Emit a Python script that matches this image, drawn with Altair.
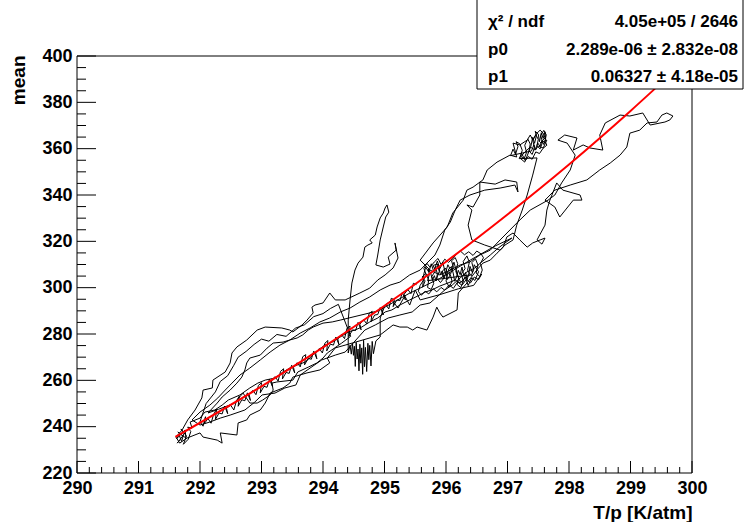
import altair as alt
import pandas as pd

FONT = "Liberation Sans"

seg1 = [(291.67,234.2),(291.63,232.9),(291.72,236.0),(291.64,237.7),(291.77,235.1),(291.76,238.6),
        (291.62,234.8),(291.66,236.5),(291.70,233.6),(291.74,237.2),(291.69,239.0),(291.78,236.0),
        (291.73,232.4),(291.81,234.6),(291.85,237.9),(291.80,239.8),
        (291.87,239.4),(291.84,242.0),(292.00,243.7),(292.08,246.3),(292.24,247.2),(292.36,249.3),
        (292.46,251.5),(292.65,253.7),(292.81,256.7),(292.94,258.8),(293.06,260.1),(293.22,261.0),
        (293.35,263.6),(293.46,265.3),(293.58,266.6),(293.71,267.9),(293.82,270.5),(293.92,273.1),
        (294.03,275.2),(294.15,276.5),(294.28,278.7),(294.41,280.9),(294.52,281.7),(294.63,283.0),
        (294.76,285.2),(294.89,286.9),(295.01,289.5),(295.12,290.4),(295.25,292.5),(295.41,294.7),
        (295.54,296.4),(295.66,298.1),(295.77,299.0),(295.90,300.7),(296.03,302.0),(296.15,303.3),
        (296.23,302.0),(296.31,304.2),(296.39,305.5)]
blob2 = [(295.70,303.0),(295.73,305.8),(295.71,308.0),(295.75,306.4),(295.78,303.1),(295.81,305.2),
         (295.84,302.9),(295.86,306.0),(295.83,308.7),(295.88,309.5),(295.91,305.5),(295.94,307.2),
         (295.97,304.0),(296.00,306.9),(296.02,303.5),(296.06,305.1),(296.04,308.0),(296.09,309.1),
         (296.12,305.9),(296.14,302.8),(296.17,304.6),(296.20,307.5),(296.23,305.6),(296.26,308.9),
         (296.29,305.0),(296.32,306.6),(296.34,303.2),(296.37,305.9),(296.39,309.2),(296.43,306.4),
         (296.46,309.9),(296.50,308.0),(296.53,306.9),(296.47,303.1),(296.42,304.3),(296.36,300.9),
         (296.31,304.8),(296.27,302.3),(296.22,303.0),(296.16,307.9),(296.13,311.0),(296.08,307.4),
         (296.03,309.9),(295.99,306.0),(295.95,310.8),(295.90,308.2),(295.86,311.5),(295.80,307.0),
         (295.76,310.3),(295.72,306.7),(295.67,308.9),(295.64,306.0)]
blob = [(295.62,300.2),(295.66,302.9),(295.61,304.6),(295.67,306.1),(295.72,303.4),(295.70,300.1),
        (295.76,299.2),(295.80,301.8),(295.77,304.9),(295.83,307.3),(295.79,309.6),(295.86,310.2),
        (295.89,307.0),(295.85,304.1),(295.91,302.2),(295.96,303.9),(295.93,306.8),(295.99,308.5),
        (296.03,306.1),(296.00,302.9),(296.05,300.3),(296.10,302.6),(296.07,305.7),(296.12,308.9),
        (296.09,311.6),(296.15,313.0),(296.19,310.4),(296.16,306.9),(296.21,304.2),(296.18,301.4),
        (296.24,300.0),(296.28,302.8),(296.25,306.0),(296.31,308.2),(296.28,311.3),(296.34,313.7),
        (296.38,311.0),(296.35,307.5),(296.41,305.1),(296.45,307.9),(296.42,310.8),(296.48,312.4),
        (296.52,309.7),(296.49,306.3),(296.55,304.8),(296.59,307.6),(296.56,310.5),(296.61,312.9),
        (296.57,314.6),(296.50,315.8),(296.44,313.9),(296.37,315.5),(296.30,314.2),(296.23,315.9),
        (296.17,314.4),(296.11,312.6),(296.04,310.9),(295.98,312.3),(295.92,310.0),(295.87,312.6),
        (295.81,311.1),(295.74,308.8),(295.69,310.5),(295.64,308.3),(295.68,305.5),(295.63,303.1),
        (295.58,301.0),(295.55,298.4),(295.60,296.7),(295.66,298.5),(295.72,297.3),(295.79,299.6),
        (295.85,298.2),(295.92,300.1),(295.98,298.9),(296.05,301.2),(296.12,299.7),(296.19,302.5),
        (296.26,301.0),(296.33,303.6),(296.40,302.1),(296.46,304.6),(296.53,303.5),(296.58,305.9),
        (296.45,301.0),(296.20,299.5),(295.90,297.0),(295.58,294.7),(295.50,299.0),(295.41,292.5),
        (295.33,296.4),(295.22,291.2),(295.12,294.7),(295.01,292.5)]
seg3 = [(294.93,286.9),(294.93,278.7),(294.86,277.0),(294.82,271.5),(294.80,276.8),(294.78,266.2),
        (294.76,275.1),(294.745,268.9),(294.73,276.0),(294.71,263.8),(294.69,274.2),(294.675,265.9),
        (294.66,277.3),(294.645,262.6),(294.63,274.0),(294.615,267.4),(294.60,275.6),(294.585,264.1),
        (294.57,273.5),(294.555,269.2),(294.54,276.4),(294.525,266.0),(294.51,274.7),(294.495,270.8),
        (294.48,275.9),(294.46,271.3),(294.44,275.2),(294.41,271.8),(294.41,286.0),(294.44,294.7),
        (294.47,302.0),(294.52,307.6),(294.57,310.6),
        (294.65,313.2),(294.68,317.5),(294.73,318.4),(294.80,319.3),(294.76,320.6),(294.85,322.7),
        (294.88,326.2),(294.93,330.1),(294.98,332.2),(295.01,334.4),(295.04,335.7),(295.07,332.6),
        (295.02,330.5),(294.98,326.2),(294.93,320.6),(294.89,314.1),(294.86,309.8),(294.98,308.9),
        (295.09,310.2),(295.06,313.2),(295.19,316.2),(295.17,319.3),(295.22,312.8),(295.14,308.5),
        (295.01,305.5),(294.89,303.3),(294.76,299.8),(294.60,297.7)]
seg4 = [(294.36,294.7),(294.20,294.7),(294.11,297.7),(294.00,293.4),(293.87,292.5),(293.82,291.6),
        (293.84,289.1),(293.74,286.0),(293.66,283.9),(293.51,280.9),(293.46,281.7),(293.33,282.6),
        (293.06,283.0),(292.93,281.7),(292.76,277.4),(292.60,274.4),(292.52,271.8),(292.49,267.5),
        (292.41,263.6),(292.21,260.1),(292.20,256.7),(292.05,255.8),(292.03,252.4),(291.92,247.2),
        (291.80,242.9),(291.71,238.6),(291.61,235.5)]
seg5 = [(291.67,232.9),(291.79,235.1),(292.00,237.3),(292.05,235.5),(292.28,234.2),(292.36,232.9),
        (292.33,237.3),(292.60,236.4),(292.62,241.6),(292.76,242.9),(292.81,245.0),(292.98,247.2),
        (293.06,250.2),(293.14,254.5),(293.35,256.7),(293.46,258.8),(293.51,261.4),(293.74,263.2),
        (293.95,264.5),(294.11,267.5),(294.07,269.6),(294.20,274.0),(294.36,275.2),(294.93,279.6),
        (295.14,283.9),(295.25,283.0),(295.37,283.0),(295.46,281.7),(295.53,283.0),(295.69,281.7),
        (295.79,287.3),(295.85,291.6),(295.90,289.1),(295.95,287.3),(296.18,290.4),(296.20,297.7),
        (296.34,302.0),(296.50,307.6),(296.60,310.6),(296.72,311.9),(296.83,314.9),(296.93,317.5),
        (296.99,321.9),(297.09,323.6),(297.20,320.6),(297.32,317.5),(297.41,319.3),(297.53,320.6),
        (297.61,321.4),(297.56,318.8),(297.48,320.6)]
seg6 = [(297.61,327.0),(297.64,333.5),(297.69,337.8),(297.80,345.2),(297.90,342.1),(298.18,340.0),
        (298.21,337.8),(298.07,337.8),(297.85,330.5),(297.77,334.8),(297.61,337.8),(297.77,342.1),
        (298.02,344.3),(298.29,346.5),(298.50,350.8),(298.67,353.8),(298.83,357.2),(298.94,360.7),
        (298.99,366.7),(299.15,368.0),(299.27,371.1),(299.43,371.5),(299.51,374.5),(299.59,375.4),
        (299.69,374.1),(299.64,372.4),(299.56,371.5),(299.32,370.2),(299.20,375.4),(298.99,374.1),
        (298.83,374.5),(298.59,371.1),(298.50,365.9),(298.55,359.4),(298.34,360.3),(298.23,361.6),
        (298.07,359.4),(298.13,364.6),(297.93,365.9),(297.82,363.7),(297.97,362.4),(298.10,357.2),
        (298.02,350.8),(297.88,345.2),(297.77,340.0),(297.66,337.8)]
seg7 = [(297.37,333.5),(297.20,329.2),(297.04,324.9),(296.88,320.6),(296.72,316.2),(296.55,314.1),
        (296.39,311.1),(296.23,309.8),(296.07,307.6),(295.90,305.5),(295.74,307.6),(295.58,311.9),
        (295.79,319.3),(296.02,326.2),(296.11,332.2),(296.28,337.8),(296.34,342.1),(296.44,343.4),
        (296.60,346.5),(296.67,350.8),(296.83,354.2),(297.04,357.2),(297.15,356.4),(297.09,362.4),
        (297.20,361.6),(297.32,363.7),(297.37,365.9),(297.41,363.7),(297.48,366.7),(297.53,368.0),
        (297.58,366.7),(297.61,364.6),(297.53,362.4),(297.64,363.7),(297.58,360.3),(297.50,361.1),
        (297.45,359.4),(297.37,360.7),(297.28,358.5),(297.20,356.0),(297.28,354.2)]
top2 = [(297.38,361.0),(297.41,364.9),(297.44,362.3),(297.47,365.6),(297.45,367.5),(297.50,366.3),
        (297.52,363.0),(297.55,366.9),(297.58,364.4),(297.61,367.3),(297.62,364.0),(297.59,361.8),
        (297.56,363.6),(297.53,361.0),(297.49,362.5),(297.46,359.6),(297.43,361.7),(297.39,359.0)]
top = [(297.05,357.0),(297.09,359.8),(297.13,357.6),(297.17,360.9),(297.14,363.0),(297.20,362.1),
       (297.24,359.3),(297.21,356.8),(297.27,355.6),(297.31,358.4),(297.28,361.5),(297.33,364.2),
       (297.37,362.0),(297.35,359.1),(297.40,357.5),(297.44,360.3),(297.41,363.6),(297.46,366.1),
       (297.50,364.0),(297.48,361.2),(297.53,359.9),(297.57,362.8),(297.54,365.7),(297.59,367.9),
       (297.63,366.0),(297.61,363.2),(297.64,361.5),(297.58,360.2),(297.52,357.9),(297.46,358.6),
       (297.40,355.4),(297.34,356.6),(297.29,354.8),(297.23,357.9),(297.19,355.7),
       (297.48,356.0),(297.41,348.6),(297.32,340.0),(297.24,333.5),(297.15,327.0),(297.09,320.6)]
seg8 = [(296.96,318.4),(296.88,316.2),(296.63,318.4),(296.42,320.6),(296.36,327.0),(296.42,333.5),
        (296.34,335.7),(296.44,334.8),(296.55,340.0),(296.55,345.6),(296.80,344.7),(296.96,346.5),
        (297.15,345.6),(297.17,341.3),(297.12,344.3),(296.88,343.0),(296.63,342.1),(296.39,340.0),
        (296.23,337.8),(296.15,333.5),(296.07,328.3),(295.98,324.9),(295.90,318.4),(295.82,314.1),
        (295.69,310.6),(295.58,307.6),(295.41,305.5),(295.25,302.4),(295.09,301.1),(294.93,299.0),
        (294.76,296.0),(294.60,293.8),(294.44,291.2),(294.28,289.5),(294.11,286.9),(293.95,285.2),
        (293.79,282.6),(293.63,280.4),(293.46,277.4),(293.30,275.2),(293.14,272.2),(292.98,268.8),
        (292.81,265.3),(292.65,262.3),(292.52,258.8),(292.41,255.8),(292.29,252.4),(292.16,249.3),
        (292.00,246.3),(291.87,242.9)]
seg9 = [(292.00,240.7),(292.16,242.0),(292.33,243.7),(292.49,245.0),(292.73,247.2),(292.89,250.6),
        (293.01,253.7),(293.22,254.5),(293.38,256.7),(293.56,258.0),(293.63,262.3),(293.79,265.3),
        (293.98,268.8),(294.20,270.9),(294.36,272.2),(294.68,281.7),(294.85,283.9),(295.06,286.9),
        (295.25,288.2),(295.45,289.5),(295.58,292.5),(295.74,293.4),(295.87,296.4),(295.98,299.0),
        (296.10,301.1),(296.23,304.2),(296.34,306.8),(296.47,308.5),(296.58,311.1),(296.72,314.1),
        (296.85,317.1),(296.96,319.3),(297.07,321.4)]
seg10 = [(296.80,318.0),(296.40,312.0),(295.90,304.0),(295.40,297.5),(294.90,290.0),(294.28,286.0),
         (294.15,285.2),(294.00,284.7),(293.84,283.0),(293.76,281.7),(293.67,279.6),(293.58,278.3),
         (293.46,277.4),(293.35,276.5),(293.19,276.1),(293.09,273.9),(292.98,270.9),(292.81,269.6),
         (292.76,267.5),(292.73,264.5),(292.68,261.4),(292.60,258.8),(292.49,255.8),(292.36,252.8),
         (292.28,250.2),(292.13,245.9),(292.30,247.5),(292.55,250.0),(292.70,254.5),(292.81,250.2),
         (292.93,250.2),(293.02,251.5),(293.14,253.7),(293.19,255.8),(293.17,258.8),(293.25,259.3),
         (293.51,260.1),(293.59,263.6),(293.76,265.7),(293.90,267.5),(294.00,269.6),(294.07,271.8),
         (294.30,276.0),(294.45,279.0),(294.25,292.8),(294.12,291.0),(294.00,288.8),(293.85,287.5),
         (293.70,284.0),(293.55,282.5),(293.40,279.0),(293.25,279.8),(293.12,276.9),(293.00,277.8),
         (292.88,275.5),(292.75,272.5),(292.62,270.0),(292.55,266.5),(292.45,262.0),(292.33,259.5),
         (292.25,255.0),(292.10,250.0)]
band = [(292.00,242.1),(292.05,240.2),(292.09,244.3),(292.07,241.3),(292.13,243.5),(292.18,241.5),
        (292.22,245.2),(292.27,247.6),(292.25,243.1),(292.31,245.9),(292.36,245.5),(292.40,248.9),
        (292.45,245.6),(292.43,248.1),(292.50,249.2),(292.55,247.2),(292.59,250.9),(292.64,253.2),
        (292.62,248.8),(292.68,251.6),(292.73,251.2),(292.77,254.6),(292.82,251.3),(292.80,253.8),
        (292.86,255.7),(292.91,253.8),(292.95,257.8),(293.00,259.0),(292.98,254.6),(293.04,257.4),
        (293.09,257.0),(293.13,260.5),(293.18,257.2),(293.16,259.7),(293.22,261.6),(293.27,259.7),
        (293.31,263.9),(293.36,265.0),(293.34,260.6),(293.40,263.4),(293.45,263.0),(293.49,266.5),
        (293.54,263.2),(293.52,265.7),(293.58,267.6),(293.63,265.8),(293.67,270.2),(293.72,271.1),
        (293.70,266.7),(293.76,269.5),(293.81,269.1),(293.85,272.6),(293.90,269.3),(293.88,271.8),
        (293.94,273.7),(293.99,271.8),(294.03,276.0),(294.08,277.2),(294.06,272.7),(294.12,275.6),
        (294.17,275.2),(294.21,278.7),(294.26,275.4),(294.24,277.9),(294.30,279.8),(294.35,278.0),
        (294.39,282.5),(294.44,283.4),(294.42,278.9),(294.48,281.8),(294.53,281.5),(294.57,285.0),
        (294.62,281.8),(294.60,284.2),(294.66,286.2),(294.71,284.4),(294.75,288.9),(294.80,289.8),
        (294.78,285.3),(294.84,288.2),(294.89,288.4),(294.93,291.4),(294.98,288.2),(294.96,290.7),
        (295.02,292.7),(295.07,290.8),(295.11,295.4),(295.16,294.8),(295.14,291.8),(295.20,294.7),
        (295.25,294.4),(295.29,297.9),(295.34,294.7),(295.32,297.2),(295.38,299.2),(295.43,297.4),
        (295.47,301.9),(295.52,301.3)]

# ---- fit curve ----
fit_tp = [291.6, 293.0, 294.0, 295.0, 296.0, 297.0, 298.0, 299.0, 299.7]
fit_mean = [235.6, 257.4, 274.2, 292.2, 311.2, 331.6, 353.2, 376.3, 393.3]

# ---- axis ticks ----
x_major = list(range(290, 301))
x_minor = [round(290 + k * 0.2, 1) for k in range(51) if k % 5 != 0]
y_major = list(range(220, 401, 20))
y_minor = [v for v in range(220, 401, 5) if v % 20 != 0]

# ---- stats box ----
stat_labels = ["\u03c7\u00b2 / ndf", "p0", "p1"]
stat_values = ["4.05e+05 / 2646", "2.289e-06 \u00b1 2.832e-08", "0.06327 \u00b1 4.18e-05"]

W, H = 615, 417

rows = []
for seg in [seg1, blob2, blob, seg3, seg4, seg5, seg6, seg7, top2, top, seg8, seg9, seg10, band]:
    for x, y in seg:
        rows.append({"i": len(rows), "tp": x, "mean": y})
trace = pd.DataFrame(rows)
fit = pd.DataFrame({"tp": fit_tp, "mean": fit_mean})

xs = alt.Scale(domain=[290, 300], nice=False, zero=False)
ys = alt.Scale(domain=[220, 400], nice=False, zero=False)

x_axis = alt.Axis(values=x_major, format="d", ticks=False, tickSize=0, domain=False, grid=False,
                  labelFont=FONT, labelFontSize=18, labelFontWeight="bold", labelColor="black",
                  labelPadding=6, labelFlush=False, labelOverlap=False,
                  title="T/p [K/atm]", titleFont=FONT, titleFontSize=19, titleFontWeight="bold",
                  titleColor="black", titleX=W, titleY=45, titleAlign="right", titleBaseline="alphabetic")
y_axis = alt.Axis(values=y_major, format="d", ticks=False, tickSize=0, domain=False, grid=False,
                  labelFont=FONT, labelFontSize=18, labelFontWeight="bold", labelColor="black",
                  labelPadding=5, labelFlush=False, labelOverlap=False,
                  title="mean", titleFont=FONT, titleFontSize=19, titleFontWeight="bold",
                  titleColor="black", titleAngle=270, titleX=-59, titleY=-1, titleAlign="right",
                  titleBaseline="middle")

one = pd.DataFrame({"a": [0]})

trace_layer = alt.Chart(trace).mark_line(color="black", strokeWidth=1).encode(
    x=alt.X("tp:Q", scale=xs, axis=x_axis),
    y=alt.Y("mean:Q", scale=ys, axis=y_axis),
    order=alt.Order("i:Q"),
)
fit_layer = alt.Chart(fit).mark_line(color="#ff0000", strokeWidth=2, interpolate="monotone").encode(
    x=alt.X("tp:Q", scale=xs, axis=x_axis),
    y=alt.Y("mean:Q", scale=ys, axis=y_axis),
)

def xticks(vals, length):
    return alt.Chart(pd.DataFrame({"tp": vals})).mark_rule(color="black", strokeWidth=1).encode(
        x=alt.X("tp:Q", scale=xs, axis=x_axis), y=alt.value(H), y2=alt.value(H - length))

def yticks(vals, length):
    return alt.Chart(pd.DataFrame({"mean": vals})).mark_rule(color="black", strokeWidth=1).encode(
        y=alt.Y("mean:Q", scale=ys, axis=y_axis), x=alt.value(0), x2=alt.value(length))

frame = [
    alt.Chart(one).mark_rule(color="black", strokeWidth=1).encode(x=alt.value(0), x2=alt.value(W), y=alt.value(0)),
    alt.Chart(one).mark_rule(color="black", strokeWidth=1).encode(x=alt.value(0), x2=alt.value(W), y=alt.value(H)),
    alt.Chart(one).mark_rule(color="black", strokeWidth=1).encode(x=alt.value(0), y=alt.value(0), y2=alt.value(H)),
    alt.Chart(one).mark_rule(color="black", strokeWidth=1).encode(x=alt.value(W), y=alt.value(0), y2=alt.value(H)),
]

box = alt.Chart(one).mark_rect(fill="white", stroke="black", strokeWidth=1).encode(
    x=alt.value(400), x2=alt.value(666), y=alt.value(-57), y2=alt.value(33))

stat_rows_y = [-29, -1, 26]
stats = []
for lab, val, yy in zip(stat_labels, stat_values, stat_rows_y):
    stats.append(alt.Chart(one).mark_text(align="left", baseline="alphabetic", font=FONT, fontSize=17,
                                          fontWeight="bold", color="black").encode(
        x=alt.value(411), y=alt.value(yy), text=alt.value(lab)))
    stats.append(alt.Chart(one).mark_text(align="right", baseline="alphabetic", font=FONT, fontSize=17,
                                          fontWeight="bold", color="black").encode(
        x=alt.value(661), y=alt.value(yy), text=alt.value(val)))

chart = alt.layer(
    trace_layer, fit_layer,
    xticks(x_major, 12), xticks(x_minor, 6), yticks(y_major, 19), yticks(y_minor, 9),
    *frame, box, *stats,
).properties(
    width=W, height=H,
    autosize=alt.AutoSizeParams(type="none"),
    padding={"left": 77, "top": 56, "right": 52, "bottom": 49},
    background="white",
).configure_view(stroke=None)

chart.save("out.html", embed_options={"renderer": "svg", "actions": False})
